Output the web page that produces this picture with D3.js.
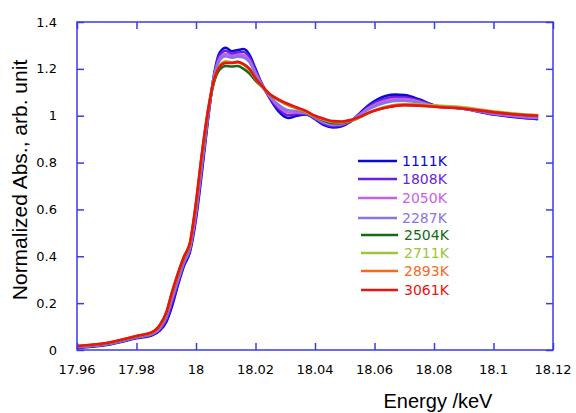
<html>
<head>
  <script src="https://d3js.org/d3.v7.min.js"></script>
  <style>
    body { margin: 0; background: white; }
    svg { display: block; }
  </style>
</head>
<body>
  <div id="chart"></div>
</body>
<script>
  // Energy grid (keV)
  var energy = [17.960, 17.970, 17.980, 17.985, 17.988, 17.990, 17.992, 17.994, 17.996, 17.998,
                18.000, 18.002, 18.004, 18.006, 18.008, 18.010, 18.012, 18.014, 18.016, 18.018,
                18.020, 18.022, 18.025, 18.028, 18.031, 18.034, 18.037, 18.040, 18.043, 18.046,
                18.049, 18.052, 18.055, 18.058, 18.061, 18.064, 18.067, 18.070, 18.075, 18.080,
                18.090, 18.100, 18.110, 18.115];

  var labels = ["1111K", "1808K", "2050K", "2287K", "2504K", "2711K", "2893K", "3061K"];
  var colors = ["#0a0ad8", "#6a1fe0", "#c95ee8", "#8a74e6", "#146b14", "#9cc43c", "#f56a1c", "#e81410"];

  var abs1111 = [0.010, 0.022, 0.050, 0.062, 0.085, 0.120, 0.190, 0.280, 0.360, 0.420,
                 0.560, 0.760, 0.980, 1.170, 1.270, 1.290, 1.275, 1.280, 1.285, 1.260,
                 1.200, 1.140, 1.070, 1.015, 0.990, 1.000, 1.005, 0.985, 0.960, 0.950,
                 0.955, 0.975, 1.010, 1.045, 1.070, 1.085, 1.090, 1.088, 1.070, 1.045,
                 1.030, 1.005, 0.990, 0.985];
  var abs1808 = [0.011, 0.024, 0.052, 0.065, 0.090, 0.130, 0.205, 0.290, 0.368, 0.428,
                 0.574, 0.776, 0.988, 1.166, 1.258, 1.277, 1.265, 1.270, 1.272, 1.248,
                 1.192, 1.138, 1.074, 1.026, 1.002, 1.007, 1.008, 0.988, 0.965, 0.955,
                 0.959, 0.976, 1.007, 1.038, 1.061, 1.075, 1.080, 1.079, 1.065, 1.043,
                 1.030, 1.007, 0.992, 0.988];
  var abs2050 = [0.013, 0.025, 0.054, 0.067, 0.095, 0.140, 0.220, 0.300, 0.376, 0.436,
                 0.588, 0.792, 0.996, 1.162, 1.246, 1.264, 1.255, 1.260, 1.259, 1.236,
                 1.184, 1.136, 1.078, 1.036, 1.014, 1.014, 1.011, 0.991, 0.971, 0.961,
                 0.963, 0.978, 1.004, 1.032, 1.052, 1.065, 1.071, 1.071, 1.060, 1.042,
                 1.030, 1.009, 0.995, 0.991];
  var abs2287 = [0.014, 0.026, 0.055, 0.069, 0.099, 0.145, 0.230, 0.307, 0.382, 0.442,
                 0.598, 0.804, 1.002, 1.159, 1.237, 1.254, 1.248, 1.252, 1.249, 1.228,
                 1.178, 1.135, 1.081, 1.044, 1.023, 1.020, 1.013, 0.993, 0.975, 0.965,
                 0.966, 0.979, 1.002, 1.027, 1.045, 1.057, 1.063, 1.064, 1.055, 1.041,
                 1.030, 1.010, 0.997, 0.993];
  var abs2504 = [0.016, 0.028, 0.058, 0.072, 0.105, 0.155, 0.243, 0.322, 0.394, 0.453,
                 0.618, 0.826, 1.010, 1.140, 1.198, 1.212, 1.210, 1.212, 1.200, 1.180,
                 1.150, 1.125, 1.088, 1.064, 1.046, 1.031, 1.015, 0.995, 0.980, 0.969,
                 0.968, 0.977, 0.993, 1.012, 1.026, 1.036, 1.043, 1.046, 1.044, 1.040,
                 1.032, 1.016, 1.004, 1.001];
  var abs2711 = [0.016, 0.029, 0.059, 0.073, 0.107, 0.157, 0.246, 0.326, 0.397, 0.456,
                 0.624, 0.834, 1.018, 1.152, 1.215, 1.232, 1.228, 1.230, 1.218, 1.196,
                 1.158, 1.128, 1.088, 1.064, 1.045, 1.030, 1.015, 0.996, 0.983, 0.973,
                 0.971, 0.979, 0.994, 1.013, 1.028, 1.039, 1.047, 1.050, 1.049, 1.044,
                 1.036, 1.019, 1.006, 1.003];
  var abs2893 = [0.017, 0.030, 0.060, 0.074, 0.108, 0.158, 0.248, 0.328, 0.399, 0.458,
                 0.627, 0.837, 1.019, 1.150, 1.212, 1.228, 1.226, 1.228, 1.219, 1.198,
                 1.159, 1.129, 1.089, 1.066, 1.047, 1.032, 1.017, 0.998, 0.985, 0.975,
                 0.973, 0.980, 0.994, 1.012, 1.026, 1.036, 1.044, 1.047, 1.045, 1.040,
                 1.032, 1.016, 1.004, 1.001];
  var abs3061 = [0.017, 0.030, 0.060, 0.075, 0.110, 0.160, 0.250, 0.330, 0.400, 0.460,
                 0.630, 0.840, 1.020, 1.150, 1.210, 1.225, 1.225, 1.230, 1.220, 1.200,
                 1.160, 1.130, 1.090, 1.068, 1.050, 1.035, 1.020, 1.000, 0.987, 0.977,
                 0.975, 0.982, 0.995, 1.012, 1.025, 1.035, 1.042, 1.045, 1.043, 1.038,
                 1.030, 1.015, 1.003, 1.000];

  var series = [abs1111, abs1808, abs2050, abs2287, abs2504, abs2711, abs2893, abs3061];

  var xTicks = [17.96, 17.98, 18, 18.02, 18.04, 18.06, 18.08, 18.1, 18.12];
  var yTicks = [0, 0.2, 0.4, 0.6, 0.8, 1, 1.2, 1.4];

  var width = 576, height = 413;
  var plotL = 77, plotR = 553, plotT = 22, plotB = 350;
  var axisColor = "#3a3aee";

  var svg = d3.select("#chart").append("svg")
    .attr("width", width).attr("height", height);

  var x = d3.scaleLinear().domain([17.96, 18.12]).range([plotL, plotR]);
  var y = d3.scaleLinear().domain([0, 1.4]).range([plotB, plotT]);

  // curves
  var line = d3.line()
    .x(function(d, i) { return x(energy[i]); })
    .y(function(d) { return y(d); })
    .curve(d3.curveMonotoneX);

  svg.selectAll("path.curve")
    .data(series)
    .enter().append("path")
    .attr("class", "curve")
    .attr("d", line)
    .attr("fill", "none")
    .attr("stroke", function(d, i) { return colors[i]; })
    .attr("stroke-width", 2.6)
    .attr("stroke-linejoin", "round");

  // axes with inward ticks
  var fmt = function(d) { return String(+d.toFixed(2)); };

  svg.append("g")
    .attr("transform", "translate(0," + plotB + ")")
    .call(d3.axisTop(x).tickValues(xTicks).tickSize(7).tickFormat(""))
    .call(function(g) { g.select(".domain").remove(); });
  svg.append("g")
    .attr("transform", "translate(0," + plotT + ")")
    .call(d3.axisBottom(x).tickValues(xTicks).tickSize(7).tickFormat(""))
    .call(function(g) { g.select(".domain").remove(); });
  svg.append("g")
    .attr("transform", "translate(" + plotL + ",0)")
    .call(d3.axisRight(y).tickValues(yTicks).tickSize(7).tickFormat(""))
    .call(function(g) { g.select(".domain").remove(); });
  svg.append("g")
    .attr("transform", "translate(" + plotR + ",0)")
    .call(d3.axisLeft(y).tickValues(yTicks).tickSize(7).tickFormat(""))
    .call(function(g) { g.select(".domain").remove(); });

  svg.selectAll(".tick line").attr("stroke", axisColor).attr("stroke-width", 1.5);

  svg.append("rect")
    .attr("x", plotL).attr("y", plotT)
    .attr("width", plotR - plotL).attr("height", plotB - plotT)
    .attr("fill", "none").attr("stroke", axisColor).attr("stroke-width", 1.5);

  // tick labels
  svg.selectAll("text.xlab")
    .data(xTicks)
    .enter().append("text")
    .attr("class", "xlab")
    .attr("x", function(d) { return x(d); })
    .attr("y", 374)
    .attr("text-anchor", "middle")
    .style("font-family", "DejaVu Sans")
    .style("font-size", "13px")
    .text(fmt);

  svg.selectAll("text.ylab")
    .data(yTicks)
    .enter().append("text")
    .attr("class", "ylab")
    .attr("x", 57)
    .attr("y", function(d) { return y(d) + 4.5; })
    .attr("text-anchor", "end")
    .style("font-family", "DejaVu Sans")
    .style("font-size", "13px")
    .text(fmt);

  // axis titles
  svg.append("text")
    .attr("x", 438).attr("y", 408)
    .attr("text-anchor", "middle")
    .style("font-family", "Liberation Sans")
    .style("font-size", "20px")
    .text("Energy /keV");

  svg.append("text")
    .attr("transform", "translate(27,180) rotate(-90)")
    .attr("text-anchor", "middle")
    .style("font-family", "Liberation Sans")
    .style("font-size", "21px")
    .text("Normalized Abs., arb. unit");

  // legend
  var legendY = [161, 179, 198, 218, 235, 253, 271, 290];
  var legend = svg.selectAll("g.legend")
    .data(labels)
    .enter().append("g")
    .attr("class", "legend")
    .attr("transform", function(d, i) { return "translate(0," + legendY[i] + ")"; });

  legend.append("line")
    .attr("x1", function(d, i) { return i < 4 ? 358 : 361; })
    .attr("x2", function(d, i) { return i < 4 ? 397 : 398; })
    .attr("stroke", function(d, i) { return colors[i]; })
    .attr("stroke-width", 2.6);

  legend.append("text")
    .attr("x", function(d, i) { return i < 4 ? 402 : 404; })
    .attr("y", 5)
    .style("font-family", "DejaVu Sans")
    .style("font-size", "14px")
    .attr("fill", function(d, i) { return colors[i]; })
    .text(function(d) { return d; });
</script>
</html>
